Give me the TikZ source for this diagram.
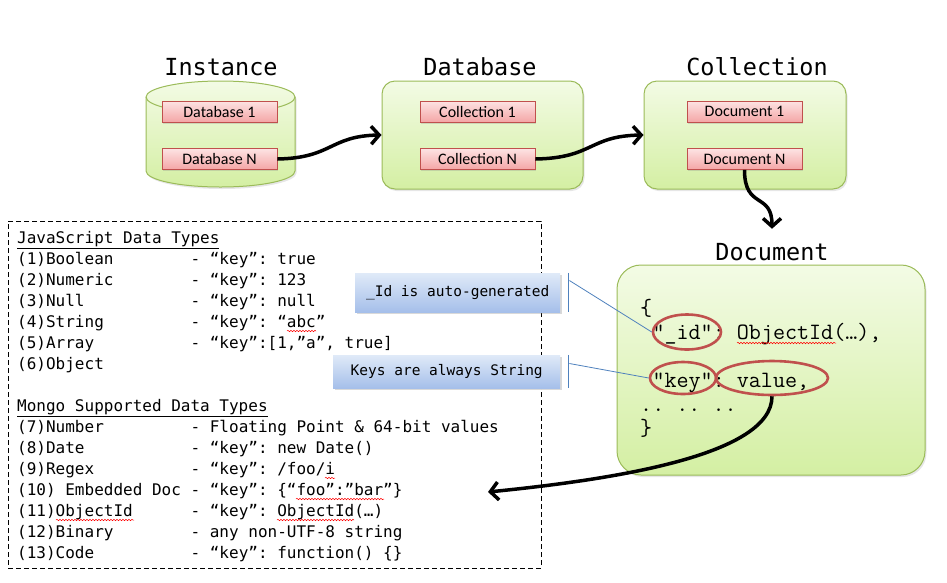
\documentclass[tikz,border=0pt]{standalone}
\usepackage{fontspec}
\setmonofont{DejaVu Sans Mono}
\newfontfamily\courierfont{Latin Modern Mono}
\newfontfamily\calibrifont{Carlito}
\usetikzlibrary{shapes.geometric,arrows.meta,shadows,decorations.pathmorphing}
\definecolor{gborder}{HTML}{9BBB59}
\definecolor{gtop}{HTML}{F3FBE5}
\definecolor{gbot}{HTML}{D4EFA3}
\definecolor{rborder}{HTML}{C0504D}
\definecolor{rtop}{HTML}{FDE3E3}
\definecolor{rbot}{HTML}{F4A6A6}
\definecolor{btop}{HTML}{E0EAF8}
\definecolor{bbot}{HTML}{A5BFEA}
\definecolor{bline}{HTML}{4F81BD}

\begin{document}
\begin{tikzpicture}[x=1pt,y=-1pt]
  \tikzstyle{greenbox}=[draw=gborder,line width=1pt,top color=gtop,bottom color=gbot,rounded corners=13pt,
    drop shadow={opacity=0.2,shadow xshift=1.5pt,shadow yshift=-2pt}]
  \tikzstyle{redbox}=[draw=rborder,line width=0.8pt,top color=rtop,bottom color=rbot,minimum width=115pt,
    minimum height=21pt,inner sep=0pt,font=\calibrifont\fontsize{16}{19}\selectfont,
    drop shadow={opacity=0.25,shadow xshift=1pt,shadow yshift=-1.5pt}]
  \tikzstyle{title}=[font=\ttfamily\fontsize{23.5}{28}\selectfont]
  \tikzstyle{callout}=[top color=btop,bottom color=bbot,anchor=west,inner sep=0pt,
    font=\ttfamily\fontsize{14.5}{17}\selectfont,
    drop shadow={opacity=0.3,shadow xshift=1.5pt,shadow yshift=-2pt}]
  \tikzstyle{bigarrow}=[line width=3.5pt,-{Straight Barb[length=8pt,width=18pt]}]
  \tikzstyle{ring}=[draw=rborder,line width=2.6pt,ellipse,inner sep=0pt]
  \tikzstyle{lead}=[bline,line width=0.8pt]
  \tikzstyle{spell}=[red,line width=0.5pt,decorate,decoration={snake,amplitude=0.7pt,segment length=3pt}]
  \tikzstyle{txt}=[anchor=base west,inner sep=0pt,font=\ttfamily\fontsize{16}{21}\selectfont]
  \tikzstyle{doctxt}=[anchor=base west,inner sep=0pt,font=\courierfont\fontsize{23.4}{24}\selectfont\frenchspacing]
  \useasboundingbox (0,0) rectangle (947,582);

  % titles
  \node[title] (tinst) at (221,67) {Instance};
  \node[title] (tdb) at (480,67) {Database};
  \node[title] (tcol) at (757,67) {Collection};
  \node[title] (tdoc) at (772,252) {Document};

  % instance cylinder
  \shade[top color=gtop,bottom color=gbot,drop shadow={opacity=0.2,shadow xshift=1.5pt,shadow yshift=-2pt}]
    (146,97) -- (146,171) arc[start angle=180,end angle=0,x radius=74.5,y radius=16]
    -- (295,97) arc[start angle=0,end angle=-180,x radius=74.5,y radius=16] -- cycle;
  \draw[gborder,line width=1pt] (146,97) -- (146,171) arc[start angle=180,end angle=0,x radius=74.5,y radius=16]
    -- (295,97) arc[start angle=0,end angle=-180,x radius=74.5,y radius=16] -- cycle;
  \draw[gborder,line width=1pt] (146,97) arc[start angle=180,end angle=0,x radius=74.5,y radius=16];

  % database and collection boxes
  \node[greenbox,minimum width=201pt,minimum height=108pt] (dbbox) at (482.5,135) {};
  \node[greenbox,minimum width=202pt,minimum height=108pt] (colbox) at (745,135) {};
  \node[greenbox,rounded corners=24pt,minimum width=308pt,minimum height=210pt] (docbox) at (771,370) {};

  \node[redbox] (db1) at (219.5,111.5) {Database 1};
  \node[redbox] (dbN) at (219.5,159) {Database N};
  \node[redbox] (col1) at (477.5,111.5) {Collection 1};
  \node[redbox] (colN) at (477.5,159) {Collection N};
  \node[redbox] (doc1) at (744.5,111.5) {Document 1};
  \node[redbox] (docN) at (744.5,159) {Document N};

  \draw[bigarrow] (dbN.east) .. controls +(55,-1) and +(-52,1) .. (dbbox.west);
  \draw[bigarrow] (colN.east) .. controls +(58,-1) and +(-55,1) .. (colbox.west);
  \draw[bigarrow,shorten >=11pt] (docN.south) .. controls +(0,40) and +(0,-48) .. (tdoc.north);

  % document body
  \node[doctxt] (dl1) at (640,315) {\{};
  \node[doctxt] (dl2) at (652.3,339) {“\_id”: ObjectId(…),};
  \node[doctxt] (dl3) at (652.3,387) {“key”: value,};
  \node[doctxt] (dl4) at (640,411) {.. .. ..};
  \node[doctxt] (dl5) at (640,435) {\}};
  \draw[spell] (737,343) -- (836,343);

  % data types list
  \node[draw,dashed,dash pattern=on 5pt off 3pt,line width=0.8pt,minimum width=533pt,minimum height=347pt] (types) at (274.5,394.5) {};
  \node[txt] (h1) at (17,243) {\underline{JavaScript Data Types}};
  \node[txt] (h2) at (17,411) {\underline{Mongo Supported Data Types}};
  \foreach \n/\y/\l/\r in {1/264/{(1)Boolean}/{- “key”: true},
                         2/285/{(2)Numeric}/{- “key”: 123},
                         3/306/{(3)Null}/{- “key”: null},
                         4/327/{(4)String}/{- “key”: “abc”},
                         5/348/{(5)Array}/{- “key”:[1,”a”, true]},
                         6/369/{(6)Object}/{},
                         7/432/{(7)Number}/{- Floating Point \& 64-bit values},
                         8/453/{(8)Date}/{- “key”: new Date()},
                         9/474/{(9)Regex}/{- “key”: /foo/i},
                         10/495/{(10) Embedded Doc}/{- “key”: \{“foo”:”bar”\}},
                         11/516/{(11)ObjectId}/{- “key”: ObjectId(…)},
                         12/537/{(12)Binary}/{- any non-UTF-8 string},
                         13/558/{(13)Code}/{- “key”: function() \{\}}}
  {
    \node[txt] (l\n) at (17,\y) {\l};
    \node[txt] (r\n) at (190.4,\y) {\r};
  }
  \draw[spell] (287,331) -- (316,331);
  \draw[spell] (325,478) -- (335,478);
  \draw[spell] (296,499) -- (384,499);
  \draw[spell] (56,520) -- (134,520);
  \draw[spell] (277,520) -- (354,520);

  % callouts
  \node[callout,minimum width=205pt,minimum height=39pt] (idnote) at (355,292.5) {\_Id is auto-generated};
  \node[callout,minimum width=227pt,minimum height=33pt] (keynote) at (333,371.5) {Keys are always String};
  \draw[lead] ([xshift=8pt]idnote.north east) -- ([xshift=8pt]idnote.south east);
  \draw[lead] ([xshift=8pt]keynote.north east) -- ([xshift=8pt]keynote.south east);

  \node[ring,minimum width=68pt,minimum height=35pt] (e1) at (687,332) {};
  \node[ring,minimum width=66pt,minimum height=32pt] (e2) at (683,378) {};
  \node[ring,minimum width=112pt,minimum height=34pt] (e3) at (772,378) {};
  \draw[lead] ([xshift=9pt,yshift=12pt]idnote.east) -- (e1.west);
  \draw[lead] ([xshift=9pt,yshift=8pt]keynote.east) -- (e2.west);

  \coordinate (vtip) at (488,492);
  \draw[bigarrow] (e3.south) .. controls +(0,60) and +(120,-12) .. (vtip);
\end{tikzpicture}
\end{document}
